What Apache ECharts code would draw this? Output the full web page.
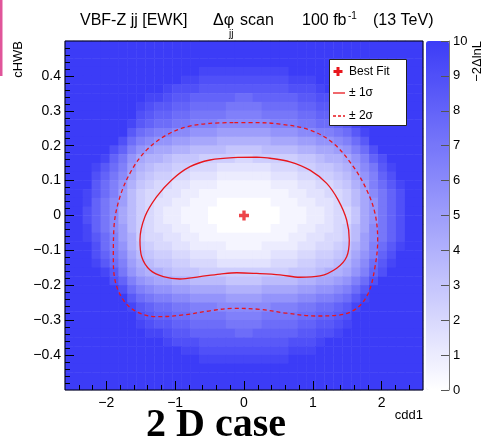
<!DOCTYPE html>
<html><head><meta charset="utf-8">
<script src="https://cdn.jsdelivr.net/npm/echarts@6/dist/echarts.min.js"></script>
<style>html,body{margin:0;padding:0;background:#fff}#c{width:481px;height:444px}</style>
</head><body><div id="c"></div>
<script>
// ---------- data ----------
const xRange = [-2.6, 2.6];
const yRange = [-0.5, 0.5];
const zRange = [0, 10];
const xTickValues = [-2, -1, 0, 1, 2];
const xMinorTickValues = [-2.4,-2.2,-1.8,-1.6,-1.4,-1.2,-0.8,-0.6,-0.4,-0.2,0.2,0.4,0.6,0.8,1.2,1.4,1.6,1.8,2.2,2.4];
const yTickValues = [-0.4,-0.3,-0.2,-0.1,0,0.1,0.2,0.3,0.4];
const yMinorTickValues = [-0.48,-0.46,-0.44,-0.42,-0.38,-0.36,-0.34,-0.32,-0.28,-0.26,-0.24,-0.22,-0.18,-0.16,-0.14,-0.12,-0.08,-0.06,-0.04,-0.02,0.02,0.04,0.06,0.08,0.12,0.14,0.16,0.18,0.22,0.24,0.26,0.28,0.32,0.34,0.36,0.38,0.42,0.44,0.46,0.48];
const zTickValues = [0,1,2,3,4,5,6,7,8,9,10];

// -2ΔlnL scan, 40 x 40 cells, top row first; each char = 2*value in base 36 (k = 10, saturated)
const scanRows = [
"kkkkkkkkkk kkkkkkkkkk kkkkkkkkkk kkkkkkkkkk",
"kkkkkkkkkk kkkkkkkkkk kkkkkkkkkk kkkkkkkkkk",
"kkkkkkkkkk kkkkkkkkkk kkkkkkkkkk kkkkkkkkkk",
"kkkkkkkkkk kkkkkjjjjj jjjjjkkkkk kkkkkkkkkk",
"kkkkkkkkkk kkkjjiiiii iiiiijjjkk kkkkkkkkkk",
"kkkkkkkkkk kjiiihhhhh hhhhhiiijk kkkkkkkkkk",
"kkkkkkkkkj jihhgggggf fggggghhii jkkkkkkkkk",
"kkkkkkkkji hhggffffee eeffffgghh ijkkkkkkkk",
"kkkkkkkkih ggffeeeedd ddeeeeffgg hikkkkkkkk",
"kkkkkkkjhg ffeedddccc cccdddeeff ghjkkkkkkk",
"kkkkkkkhfe ddccbbbaaa aaabbbccdd efhjkkkkkk",
"kkkkkkifdc bbaa999888 888999aabb cdfhkkkkkk",
"kkkkkigdba 9988777766 6677778899 abdfikkkkk",
"kkkkjgeb98 8766655554 4555556678 89bdgikkkk",
"kkkjhfda87 6655444333 3334445566 78acehjkkk",
"kkkigec976 5544333222 2223334455 679bdgikkk",
"kkkhfdb865 4433222111 1112223344 568adfhjkk",
"kkjhfda754 4332211111 1111122334 4579cegikk",
"kkjgeca754 3322111000 0001112233 4579begikk",
"kkigec9754 3221110000 0000111223 4469begikk",
"kkigec9754 3221110000 0000111223 4469begikk",
"kkjgeca754 3322111000 0001112233 4579cegikk",
"kkjhfda854 4332211111 1111122334 457acegikk",
"kkkifdb865 4433222211 1122223344 568adfhjkk",
"kkkigec976 5544333222 2223334455 679bdgikkk",
"kkkjhfda87 6655444333 3334445566 78acfhjkkk",
"kkkkjheb98 8766655555 5555566678 89bdgikkkk",
"kkkkkigdba 9988777766 6677778899 abdfikkkkk",
"kkkkkkifdc bbaa999988 889999aabb cdfhkkkkkk",
"kkkkkkkhfe ddccbbbbaa aabbbbccdd efhjkkkkkk",
"kkkkkkkjhg ffeedddccc cccdddeeff ghjkkkkkkk",
"kkkkkkkkih ggffeeeedd ddeeeeffgg hikkkkkkkk",
"kkkkkkkkji hhggffffee eeffffgghh ijkkkkkkkk",
"kkkkkkkkkj jihhgggggf fggggghhii jkkkkkkkkk",
"kkkkkkkkkk kjiiihhhhh hhhhhiiijk kkkkkkkkkk",
"kkkkkkkkkk kkkjjiiiii iiiiijjjkk kkkkkkkkkk",
"kkkkkkkkkk kkkkkjjjjj jjjjjkkkkk kkkkkkkkkk",
"kkkkkkkkkk kkkkkkkkkk kkkkkkkkkk kkkkkkkkkk",
"kkkkkkkkkk kkkkkkkkkk kkkkkkkkkk kkkkkkkkkk",
"kkkkkkkkkk kkkkkkkkkk kkkkkkkkkk kkkkkkkkkk"
];

// contours (cdd1, cHWB)
const sigma1 = [[0.184,0.167],[-0.155,0.166],[-0.494,0.159],[-0.784,0.140],[-1.050,0.102],[-1.268,0.054],[-1.438,-0.003],[-1.511,-0.070],[-1.486,-0.118],[-1.365,-0.156],[-1.172,-0.175],[-0.930,-0.182],[-0.639,-0.175],[-0.349,-0.168],[-0.106,-0.164],[0.184,-0.166],[0.523,-0.170],[0.813,-0.177],[1.104,-0.173],[1.346,-0.151],[1.491,-0.118],[1.529,-0.070],[1.491,-0.013],[1.369,0.044],[1.201,0.092],[0.958,0.130],[0.668,0.154],[0.378,0.164],[0.184,0.167]];
const sigma2 = [[-0.155,0.266],[-0.494,0.264],[-0.832,0.254],[-1.123,0.231],[-1.413,0.188],[-1.631,0.130],[-1.801,0.054],[-1.888,-0.032],[-1.898,-0.118],[-1.874,-0.185],[-1.753,-0.242],[-1.558,-0.276],[-1.268,-0.290],[-0.882,-0.285],[-0.494,-0.273],[-0.155,-0.266],[0.232,-0.269],[0.620,-0.280],[1.056,-0.288],[1.394,-0.285],[1.637,-0.266],[1.805,-0.223],[1.903,-0.147],[1.942,-0.070],[1.903,0.006],[1.783,0.073],[1.588,0.140],[1.297,0.207],[0.958,0.245],[0.523,0.262],[0.184,0.266],[-0.155,0.266]];
const bestFit = [[0, 0]];

// ---------- build ----------
const nRows = scanRows.length;
const cleanRows = scanRows.map(r => r.replace(/ /g, ''));
const colCats = cleanRows[0].split('').map((_, i) => String(i));
const rowCats = scanRows.map((_, j) => String(j));
const heatData = [];
cleanRows.forEach((row, j) => {
  for (let i = 0; i < row.length; i++) heatData.push([i, nRows - 1 - j, parseInt(row[i], 36) / 2]);
});

const FONT = '"Liberation Sans", Arial, Helvetica, sans-serif';
const RED = '#e8161d';
const fmt = v => (v < 0 ? '\u2212' + String(-v) : String(v));
const G = { left: 65, top: 41, width: 358, height: 349 };
const noLine = { show: false, onZero: false };

const chart = echarts.init(document.getElementById('c'), null, { renderer: 'canvas' });
chart.setOption({
  animation: false,
  backgroundColor: '#ffffff',
  grid: [
    Object.assign({ show: true, borderColor: '#000', borderWidth: 1, backgroundColor: 'transparent', z: 4 }, G),
    Object.assign({}, G),
    Object.assign({}, G),
    { left: 426, top: 41, width: 23, height: 349 }
  ],
  xAxis: [
    { gridIndex: 0, type: 'value', min: xRange[0], max: xRange[1], position: 'bottom', z: 6,
      axisLine: noLine, splitLine: { show: false },
      axisTick: { inside: true, length: 9, customValues: xTickValues, lineStyle: { color: '#000' } },
      axisLabel: { customValues: xTickValues, formatter: fmt, margin: 6, fontSize: 14, fontFamily: FONT, color: '#000' } },
    { gridIndex: 1, type: 'category', data: colCats, show: false, axisLine: noLine },
    { gridIndex: 2, type: 'value', min: xRange[0], max: xRange[1], position: 'bottom', z: 6,
      axisLine: noLine, splitLine: { show: false }, axisLabel: { show: false },
      axisTick: { inside: true, length: 5, customValues: xMinorTickValues, lineStyle: { color: '#000' } } },
    { gridIndex: 3, type: 'value', show: false, min: 0, max: 1, axisLine: noLine }
  ],
  yAxis: [
    { gridIndex: 0, type: 'value', min: yRange[0], max: yRange[1], position: 'left', z: 6,
      axisLine: noLine, splitLine: { show: false },
      axisTick: { inside: true, length: 9, customValues: yTickValues, lineStyle: { color: '#000' } },
      axisLabel: { customValues: yTickValues, formatter: fmt, margin: 4, fontSize: 14, fontFamily: FONT, color: '#000' } },
    { gridIndex: 1, type: 'category', data: rowCats, show: false, axisLine: noLine },
    { gridIndex: 2, type: 'value', min: yRange[0], max: yRange[1], position: 'left', z: 6,
      axisLine: noLine, splitLine: { show: false }, axisLabel: { show: false },
      axisTick: { inside: true, length: 5, customValues: yMinorTickValues, lineStyle: { color: '#000' } } },
    { gridIndex: 3, type: 'value', min: zRange[0], max: zRange[1], position: 'right', z: 6,
      axisLine: { show: true, onZero: false, lineStyle: { color: '#777' } }, splitLine: { show: false },
      axisTick: { inside: true, length: 8, customValues: zTickValues, lineStyle: { color: '#555' } },
      axisLabel: { customValues: zTickValues, margin: 4, fontSize: 13, fontFamily: FONT, color: '#000' } }
  ],
  visualMap: {
    type: 'continuous', min: zRange[0], max: zRange[1], seriesIndex: 0, dimension: 2,
    calculable: false, hoverLink: false, show: true, left: 426, top: 41, itemWidth: 23, itemHeight: 349,
    padding: 0, text: null, inRange: { color: ['#ffffff', '#3c3cf7'] }
  },
  series: [
    { type: 'heatmap', xAxisIndex: 1, yAxisIndex: 1, data: heatData, z: 1, silent: true, progressive: 0 },
    { type: 'line', name: '± 1σ', xAxisIndex: 0, yAxisIndex: 0, data: sigma1, smooth: 0.35, symbol: 'none', z: 5, silent: true,
      lineStyle: { color: RED, width: 1.3 } },
    { type: 'line', name: '± 2σ', xAxisIndex: 0, yAxisIndex: 0, data: sigma2, smooth: 0.35, symbol: 'none', z: 5, silent: true,
      lineStyle: { color: RED, width: 1.3, type: [4, 3] } },
    { type: 'scatter', name: 'Best Fit', xAxisIndex: 0, yAxisIndex: 0, data: bestFit, z: 7, silent: true,
      symbol: 'path://M3,0H6V3H9V6H6V9H3V6H0V3H3Z', symbolSize: 10, itemStyle: { color: RED } }
  ],
  graphic: [
    { type: 'rect', shape: { x: 0, y: 0, width: 2.5, height: 76 }, style: { fill: '#e0559a' } },
    { type: 'text', x: 80, y: 21, style: { text: 'VBF-Z jj [EWK]', fontSize: 16, fontFamily: FONT, fill: '#000', verticalAlign: 'middle' } },
    { type: 'text', x: 213, y: 21, style: { text: 'Δφ', fontSize: 16, fontFamily: FONT, fill: '#000', verticalAlign: 'middle' } },
    { type: 'text', x: 229, y: 34, style: { text: 'jj', fontSize: 10, fontFamily: FONT, fill: '#000', verticalAlign: 'middle' } },
    { type: 'text', x: 240, y: 21, style: { text: 'scan', fontSize: 16, fontFamily: FONT, fill: '#000', verticalAlign: 'middle' } },
    { type: 'text', x: 302, y: 21, style: { text: '100 fb', fontSize: 16, fontFamily: FONT, fill: '#000', verticalAlign: 'middle' } },
    { type: 'text', x: 348, y: 16, style: { text: '-1', fontSize: 10, fontFamily: FONT, fill: '#000', verticalAlign: 'middle' } },
    { type: 'text', x: 373, y: 21, style: { text: '(13 TeV)', fontSize: 16, fontFamily: FONT, fill: '#000', verticalAlign: 'middle' } },
    { type: 'text', x: 18, y: 41, rotation: Math.PI / 2, style: { text: 'cHWB', fontSize: 13, fontFamily: FONT, fill: '#000', align: 'right', verticalAlign: 'middle' } },
    { type: 'text', x: 423, y: 415, style: { text: 'cdd1', fontSize: 13, fontFamily: FONT, fill: '#000', align: 'right', verticalAlign: 'middle' } },
    { type: 'text', x: 477, y: 41, rotation: Math.PI / 2, style: { text: '−2ΔlnL', fontSize: 13, fontFamily: FONT, fill: '#000', align: 'right', verticalAlign: 'middle' } },
    { type: 'rect', z: 20, shape: { x: 329.5, y: 59.5, width: 77, height: 66 }, style: { fill: '#fff', stroke: '#222', lineWidth: 1 } },
    { type: 'polygon', z: 21, shape: { points: [[336.5,67],[339.5,67],[339.5,70],[342.5,70],[342.5,73],[339.5,73],[339.5,76],[336.5,76],[336.5,73],[333.5,73],[333.5,70],[336.5,70]] }, style: { fill: RED } },
    { type: 'text', z: 21, x: 349, y: 72, style: { text: 'Best Fit', fontSize: 12, fontFamily: FONT, fill: '#000', verticalAlign: 'middle' } },
    { type: 'line', z: 21, shape: { x1: 333, y1: 93, x2: 345, y2: 93 }, style: { stroke: RED, lineWidth: 1.3 } },
    { type: 'text', z: 21, x: 349, y: 93, style: { text: '± 1σ', fontSize: 12, fontFamily: FONT, fill: '#000', verticalAlign: 'middle' } },
    { type: 'line', z: 21, shape: { x1: 333, y1: 116, x2: 345, y2: 116 }, style: { stroke: RED, lineWidth: 1.3, lineDash: [3, 2] } },
    { type: 'text', z: 21, x: 349, y: 116, style: { text: '± 2σ', fontSize: 12, fontFamily: FONT, fill: '#000', verticalAlign: 'middle' } },
    { type: 'text', x: 146, y: 426, style: { text: '2 D case', fontSize: 40, fontWeight: 'bold', fontFamily: '"Liberation Serif", "DejaVu Serif", serif', fill: '#000', verticalAlign: 'middle' } }
  ]
});
</script>
</body></html>
